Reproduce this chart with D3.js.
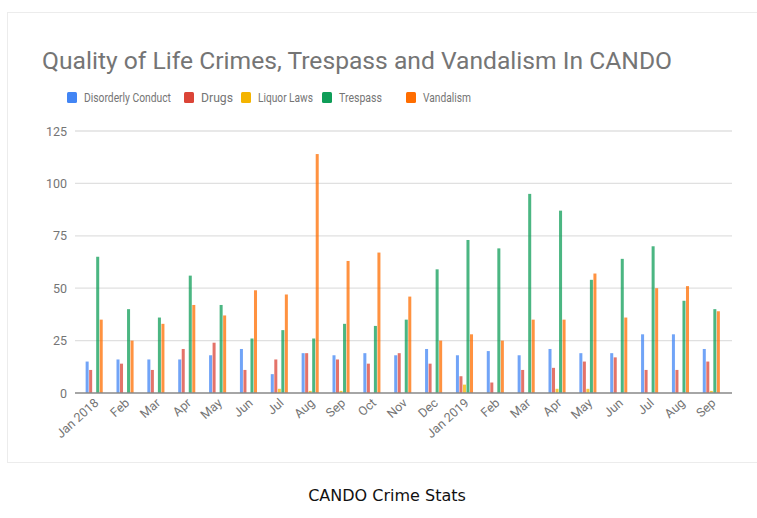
<!DOCTYPE html>
<html>
<head>
<meta charset="utf-8">
<script src="https://cdn.jsdelivr.net/npm/d3@7"></script>
<style>
  body { margin: 0; background: #fff; }
  svg { display: block; }
</style>
</head>
<body>
<svg width="757" height="518"></svg>
<script>
// month labels and crime counts per series
const months = ["Jan 2018", "Feb", "Mar", "Apr", "May", "Jun", "Jul", "Aug", "Sep", "Oct", "Nov", "Dec",
    "Jan 2019", "Feb", "Mar", "Apr", "May", "Jun", "Jul", "Aug", "Sep"];
const seriesNames = ["Disorderly Conduct", "Drugs", "Liquor Laws", "Trespass", "Vandalism"];
const disorderly = [15, 16, 16, 16, 18, 21, 9, 19, 18, 19, 18, 21, 18, 20, 18, 21, 19, 19, 28, 28, 21];
const drugs      = [11, 14, 11, 21, 24, 11, 16, 19, 16, 14, 19, 14, 8, 5, 11, 12, 15, 17, 11, 11, 15];
const liquor     = [0, 0, 0, 0, 0, 0, 2, 1, 1, 0, 0, 0, 4, 0, 0, 2, 2, 0, 0, 0, 1];
const trespass   = [65, 40, 36, 56, 42, 26, 30, 26, 33, 32, 35, 59, 73, 69, 95, 87, 54, 64, 70, 44, 40];
const vandalism  = [35, 25, 33, 42, 37, 49, 47, 114, 63, 67, 46, 25, 28, 25, 35, 35, 57, 36, 50, 51, 39];
const yTicks = [0, 25, 50, 75, 100, 125];

const colors = ["#4285F4", "#DB4437", "#F4B400", "#0F9D58", "#FF6D00"];
const seriesValues = [disorderly, drugs, liquor, trespass, vandalism];

const svg = d3.select("svg");
const font = "Roboto, Arial, sans-serif";
const grey = "#757575";

// faint card border
svg.append("rect")
    .attr("x", 7.5).attr("y", 12.5)
    .attr("width", 760).attr("height", 450)
    .attr("fill", "none")
    .attr("stroke", "#ececec");

const x = d3.scaleBand()
    .domain(d3.range(months.length))
    .range([79, 727])
    .paddingInner(0.43)
    .paddingOuter(0.215);

const xInner = d3.scaleBand()
    .domain(d3.range(seriesNames.length))
    .range([0, x.bandwidth()]);

const y = d3.scaleLinear()
    .domain([0, 125])
    .range([393, 131]);

// title
svg.append("text")
    .attr("x", 42)
    .attr("y", 69)
    .attr("font-family", font)
    .attr("font-size", "24px")
    .attr("fill", grey)
    .attr("textLength", 630)
    .attr("lengthAdjust", "spacingAndGlyphs")
    .text("Quality of Life Crimes, Trespass and Vandalism In CANDO");

// legend (the original font is narrow, so squeeze labels to its widths)
const legendX = [67, 184, 241, 322, 406];
const legendW = [87, 32, 55, 43, 48];
const legend = svg.append("g").attr("class", "legend");
seriesNames.forEach(function(name, i) {
    legend.append("rect")
        .attr("x", legendX[i]).attr("y", 92)
        .attr("width", 10).attr("height", 11)
        .attr("rx", 1.5)
        .attr("fill", colors[i]);
    legend.append("text")
        .attr("x", legendX[i] + 17)
        .attr("y", 102)
        .attr("font-family", font)
        .attr("font-size", "13px")
        .attr("fill", grey)
        .attr("textLength", legendW[i])
        .attr("lengthAdjust", "spacingAndGlyphs")
        .text(name);
});

// gridlines
svg.append("g")
    .attr("class", "grid")
    .selectAll("line")
    .data(yTicks.slice(1))
    .enter().append("line")
    .attr("x1", 75).attr("x2", 732)
    .attr("y1", function(d) { return y(d); })
    .attr("y2", function(d) { return y(d); })
    .attr("stroke", "#e0e0e0")
    .attr("stroke-width", 1.3);

// y axis labels
svg.append("g")
    .attr("transform", "translate(75,0)")
    .call(d3.axisLeft(y).tickValues(yTicks).tickSize(0).tickPadding(8))
    .call(function(g) { g.select(".domain").remove(); })
    .selectAll("text")
    .attr("font-family", font)
    .attr("font-size", "12.5px")
    .attr("fill", grey);

// bars
const groups = svg.append("g")
    .selectAll("g")
    .data(months)
    .enter().append("g")
    .attr("transform", function(d, i) { return "translate(" + x(i) + ",0)"; });

groups.selectAll("rect")
    .data(function(d, i) { return seriesValues.map(function(s, k) { return { k: k, v: s[i] }; }); })
    .enter().append("rect")
    .attr("x", function(d) { return xInner(d.k); })
    .attr("width", xInner.bandwidth() - 0.5)
    .attr("y", function(d) { return y(d.v); })
    .attr("height", function(d) { return y(0) - y(d.v); })
    .attr("fill", function(d) { return colors[d.k]; })
    .attr("opacity", 0.75);

// baseline
svg.append("line")
    .attr("x1", 75).attr("x2", 732)
    .attr("y1", y(0)).attr("y2", y(0))
    .attr("stroke", "#888")
    .attr("stroke-width", 1.3);

// x axis labels
svg.append("g")
    .selectAll("text")
    .data(months)
    .enter().append("text")
    .attr("transform", function(d, i) {
        return "translate(" + (x(i) + x.bandwidth() / 2 + 5) + ",404) rotate(-42)";
    })
    .attr("text-anchor", "end")
    .attr("font-family", font)
    .attr("font-size", "12.5px")
    .attr("fill", grey)
    .text(function(d) { return d; });

// caption under the chart
svg.append("text")
    .attr("x", 387)
    .attr("y", 501)
    .attr("text-anchor", "middle")
    .attr("font-family", "'DejaVu Sans', Verdana, sans-serif")
    .attr("font-size", "16px")
    .attr("fill", "#111")
    .text("CANDO Crime Stats");
</script>
</body>
</html>
